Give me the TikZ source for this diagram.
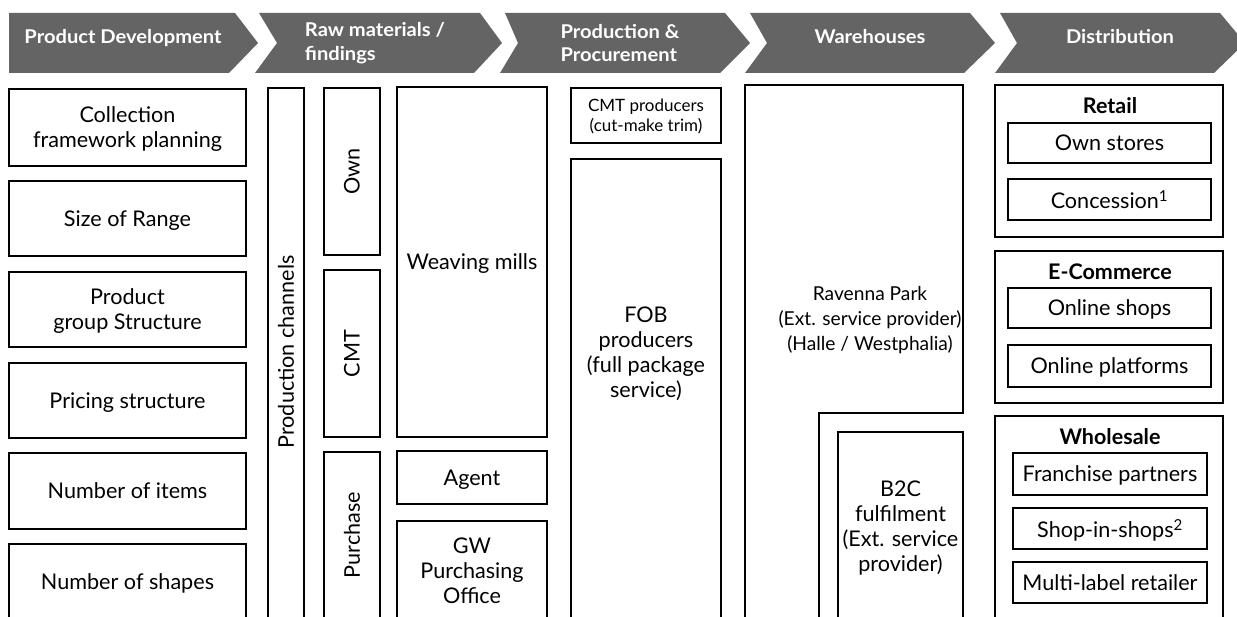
\documentclass[tikz,border=0pt]{standalone}
\usepackage{fontspec}
\setmainfont{Lato}
\newfontfamily\hdrfont[FakeStretch=1.06]{Lato}
\definecolor{hdr}{RGB}{100,100,100}
\newcommand\bodyfont{\fontsize{21.6}{25}\selectfont}
\newcommand\smallbody{\fontsize{17}{20}\selectfont}
\newcommand\ravfont{\fontsize{19.2}{25}\selectfont}
\tikzset{
  chev/.style={fill=hdr, draw=none},
  htext/.style={text=white, font=\hdrfont\fontsize{19}{23.5}\selectfont\bfseries, inner sep=0pt},
  box/.style={draw=black, line width=2.2pt, inner sep=0pt, align=center, font=\bodyfont, text depth=0pt},
  txt/.style={inner sep=0pt, align=center, font=\bodyfont, text depth=0pt},
  rot/.style={inner sep=0pt, font=\bodyfont, rotate=90},
  ttl/.style={inner sep=0pt, font=\fontsize{21.5}{26}\selectfont\bfseries},
}
% \bx[options]{name}{x1}{y1}{x2}{y2}{text}
\newcommand\bx[7][]{%
  \pgfmathsetmacro\bxcx{(#3+#5)/2}%
  \pgfmathsetmacro\bxcy{(#4+#6)/2}%
  \pgfmathsetmacro\bxw{#5-#3}%
  \pgfmathsetmacro\bxh{#6-#4}%
  \node[box, minimum width=\bxw pt, minimum height=\bxh pt, #1] (#2) at (\bxcx,\bxcy) {#7};}
\begin{document}
\begin{tikzpicture}[x=1pt,y=-1pt]
\useasboundingbox (0,0) rectangle (1237,617);
\clip (0,0) rectangle (1237,617);
% header chevrons
\fill[chev] (9,13) -- (235,13) -- (258,43) -- (229,73) -- (9,73) -- cycle;
\fill[chev] (259,13) -- (480,13) -- (502,43) -- (474,73) -- (255,73) -- (277,43) -- cycle;
\fill[chev] (505,13) -- (725,13) -- (750,43) -- (720,73) -- (500,73) -- (518,43) -- cycle;
\fill[chev] (750,13) -- (970,13) -- (995,43) -- (964,73) -- (745,73) -- (767,43) -- cycle;
\fill[chev] (1000,13) -- (1220,13) -- (1245,43) -- (1214,73) -- (995,73) -- (1017,43) -- cycle;
\node[htext, anchor=base] (h1) at (123,44) {Product Development};
\node[htext, align=left] (h2) at (375,43) {Raw materials /\\findings};
\node[htext, align=left] (h3) at (620,43) {Production \&\\Procurement};
\node[htext, anchor=base] (h4) at (870,44) {Warehouses};
\node[htext, anchor=base] (h5) at (1120,44) {Distribution};
% product development
\bx{pd1}{9}{89}{246}{166}{Collection\\framework planning}
\bx{pd2}{9}{181}{246}{256}{Size of Range}
\bx{pd3}{9}{272}{246}{347}{Product\\group Structure}
\bx{pd4}{9}{363}{246}{438}{Pricing structure}
\bx{pd5}{9}{453}{246}{529}{Number of items}
\bx{pd6}{9}{544}{246}{620}{Number of shapes}
% raw materials
\bx{pc}{268}{88}{304}{620}{}
\node[rot] (pct) at (286,352) {Production channels};
\bx{own}{324}{88}{380}{255}{}
\node[rot] (ownt) at (own.center) {Own};
\bx{cmt}{324}{270}{380}{437}{}
\node[rot] (cmtt) at (cmt.center) {CMT};
\bx{pur}{324}{452}{380}{620}{}
\node[rot] (purt) at (352,535) {Purchase};
\bx{weave}{397}{87}{547}{437}{Weaving mills}
\bx{agent}{397}{451}{547}{504}{Agent}
\bx{gw}{397}{521}{547}{621}{GW\\Purchasing\\Office}
% production
\bx[font=\smallbody]{cmtp}{571}{88}{721}{143}{CMT producers\\(cut-make trim)}
\bx{fob}{571}{159}{721}{620}{}
\node[txt] (fobt) at (646,352) {FOB\\producers\\(full package\\service)};
% warehouses
\draw[line width=2.2pt] (745,85) -- (963,85) -- (963,413) -- (819,413) -- (819,620) -- (745,620) -- cycle;
\node[txt, font=\ravfont] (rav) at (870,318) {Ravenna Park\\(Ext. service provider)\\(Halle / Westphalia)};
\bx{b2c}{838}{432}{963}{620}{B2C\\fulfilment\\(Ext. service\\provider)}
% distribution
\bx{retail}{995}{85}{1223}{237}{}
\node[ttl] (retailt) at (1110,106) {Retail};
\bx{ownst}{1008}{123}{1211}{163}{Own stores}
\bx{conc}{1008}{179}{1211}{220}{Concession\textsuperscript{1}}
\bx{ecom}{995}{251}{1223}{403}{}
\node[ttl] (ecomt) at (1110,272) {E-Commerce};
\bx{osh}{1008}{288}{1211}{328}{Online shops}
\bx{opl}{1008}{345}{1211}{387}{Online platforms}
\bx{whole}{995}{416}{1223}{620}{}
\node[ttl] (wholet) at (1110,437) {Wholesale};
\bx{fr}{1013}{453}{1207}{495}{Franchise partners}
\bx{sis}{1013}{508}{1207}{549}{Shop-in-shops\textsuperscript{2}}
\bx{ml}{1013}{562}{1207}{603}{Multi-label retailer}
\end{tikzpicture}
\end{document}
